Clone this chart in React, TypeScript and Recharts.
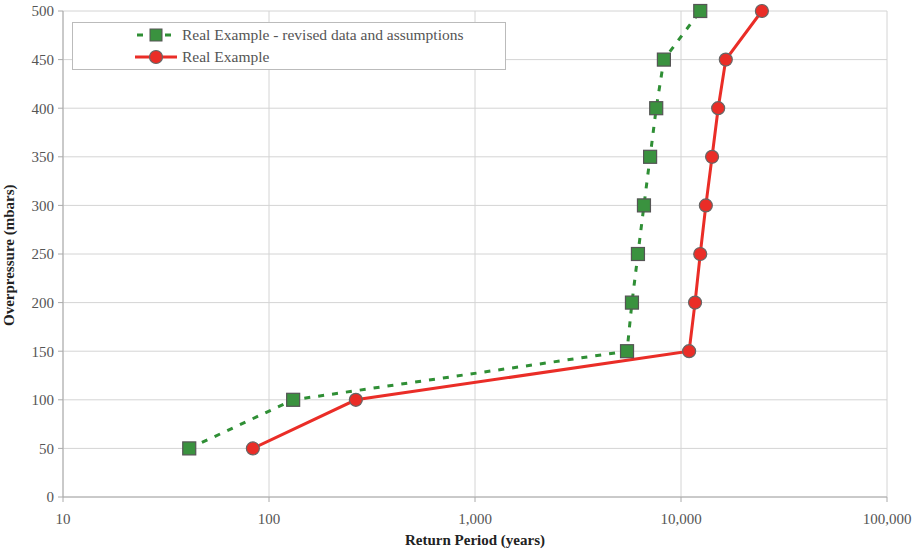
import React from 'react';
import { ComposedChart, Line, XAxis, YAxis, CartesianGrid } from 'recharts';

const revisedPeriods = [41, 131, 5470, 5780, 6180, 6610, 7080, 7580, 8260, 12400];
const revisedPressures = [50, 100, 150, 200, 250, 300, 350, 400, 450, 500];
const realPeriods = [83.5, 264, 10950, 11700, 12400, 13200, 14150, 15150, 16500, 24700];
const realPressures = [50, 100, 150, 200, 250, 300, 350, 400, 450, 500];
const xTicks = [10, 100, 1000, 10000, 100000];
const yTicks = [0, 50, 100, 150, 200, 250, 300, 350, 400, 450, 500];

const revisedName = 'Real Example - revised data and assumptions';
const realName = 'Real Example';

const revisedData = revisedPeriods.map((x, i) => ({ x, y: revisedPressures[i] }));
const realData = realPeriods.map((x, i) => ({ x, y: realPressures[i] }));

const GREEN = '#2f8f35';
const GREEN_FILL = '#3a923f';
const RED = '#ea2d27';
const SERIF = "'Liberation Serif', 'Times New Roman', serif";

const SquareDot = (props: any) => {
  const { cx, cy } = props;
  if (cx == null || cy == null) return null;
  const s = 13;
  return <rect x={cx - s / 2} y={cy - s / 2} width={s} height={s} fill={GREEN_FILL} stroke="#555" strokeWidth={1.2} />;
};

const CircleDot = (props: any) => {
  const { cx, cy } = props;
  if (cx == null || cy == null) return null;
  return <circle cx={cx} cy={cy} r={6.5} fill={RED} stroke="#666" strokeWidth={1.2} />;
};

const fmt = (v: number) => v.toLocaleString('en-US');

const LegendBox = () => (
  <svg width={434} height={48} style={{ display: 'block' }}>
    <rect x={0.5} y={0.5} width={433} height={47} fill="#fff" stroke="#bbb" strokeWidth={1} />
    <line x1={63} y1={13} x2={105} y2={13} stroke={GREEN} strokeWidth={3} strokeDasharray="6 8" strokeDashoffset={-2} />
    <rect x={78} y={7} width={12} height={12} fill={GREEN_FILL} stroke="#555" strokeWidth={1} />
    <text x={110} y={18} fontFamily={SERIF} fontSize={15.5} fill="#555">{revisedName}</text>
    <line x1={63} y1={35} x2={105} y2={35} stroke={RED} strokeWidth={3} />
    <circle cx={84} cy={35} r={6.5} fill={RED} stroke="#666" strokeWidth={1.2} />
    <text x={110} y={40} fontFamily={SERIF} fontSize={15.5} fill="#555">{realName}</text>
  </svg>
);

export default function App() {
  return (
    <div style={{ position: 'absolute', left: 0, top: 0, width: 919, height: 549, background: '#fff' }}>
      <ComposedChart width={919} height={549} margin={{ top: 11, right: 32, bottom: 22, left: 3 }}>
        <CartesianGrid stroke="#d4d4d4" strokeWidth={1} />
        <XAxis
          dataKey="x"
          type="number"
          scale="log"
          domain={[10, 100000]}
          ticks={xTicks}
          tickFormatter={fmt}
          allowDataOverflow
          stroke="#aaa"
          tick={{ fill: '#555', fontSize: 15, fontFamily: SERIF }}
          tickSize={5}
          tickMargin={11}
          label={{ value: 'Return Period (years)', position: 'insideBottom', offset: -18, fill: '#222', fontSize: 15, fontWeight: 'bold', fontFamily: SERIF }}
        />
        <YAxis
          dataKey="y"
          type="number"
          domain={[0, 500]}
          ticks={yTicks}
          width={60}
          stroke="#aaa"
          tick={{ fill: '#555', fontSize: 15, fontFamily: SERIF }}
          tickSize={5}
          tickMargin={4}
          label={{ value: 'Overpressure (mbars)', angle: -90, position: 'insideLeft', offset: 6, dy: 72, fill: '#222', fontSize: 15, fontWeight: 'bold', fontFamily: SERIF }}
        />
        <Line
          data={revisedData}
          dataKey="y"
          name={revisedName}
          type="linear"
          stroke={GREEN}
          strokeWidth={3}
          strokeDasharray="6 8"
          dot={<SquareDot />}
          activeDot={false}
          isAnimationActive={false}
        />
        <Line
          data={realData}
          dataKey="y"
          name={realName}
          type="linear"
          stroke={RED}
          strokeWidth={3}
          dot={<CircleDot />}
          activeDot={false}
          isAnimationActive={false}
        />
      </ComposedChart>
      <div style={{ position: 'absolute', left: 72, top: 22, width: 434, height: 48 }}>
        <LegendBox />
      </div>
    </div>
  );
}
